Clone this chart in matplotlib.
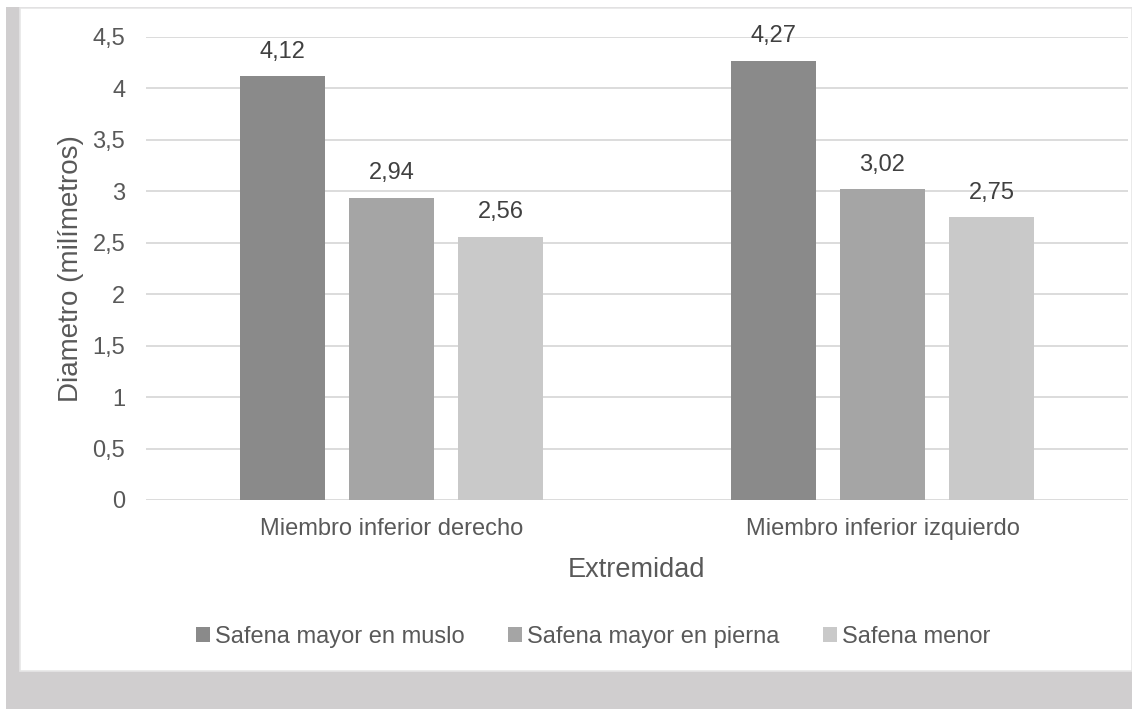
import matplotlib.pyplot as plt
import numpy as np
from matplotlib.patches import Rectangle

plt.rcParams['font.family'] = ['Liberation Sans', 'DejaVu Sans']

categories = ['Miembro inferior derecho', 'Miembro inferior izquierdo']
series_names = ['Safena mayor en muslo', 'Safena mayor en pierna', 'Safena menor']
values = [
    [4.12, 4.27],
    [2.94, 3.02],
    [2.56, 2.75],
]
colors = ['#8a8a8a', '#a5a5a5', '#c9c9c9']
yticks = [0, 0.5, 1, 1.5, 2, 2.5, 3, 3.5, 4, 4.5]
text_color = '#595959'

W, H = 1132, 709
fig = plt.figure(figsize=(W / 100, H / 100), dpi=100)

# gray frame around the white chart area
fig.patches.append(Rectangle((6 / W, 0), 1 - 6 / W, 1 - 7 / H, transform=fig.transFigure,
                             facecolor='#d0cecf', edgecolor='none', zorder=-3))
fig.patches.append(Rectangle((20 / W, (H - 671) / H), 1 - 20 / W, (671 - 8) / H,
                             transform=fig.transFigure, facecolor='white',
                             edgecolor='#e6e6e6', lw=1.2, zorder=-2))

ax = fig.add_axes([146 / W, (H - 500) / H, (1128 - 146) / W, (500 - 37) / H])
ax.set_facecolor('none')

x = np.arange(len(categories))
width = 0.175
step = 0.222
for i, (name, vals) in enumerate(zip(series_names, values)):
    pos = x + (i - 1) * step
    bars = ax.bar(pos, vals, width, color=colors[i], label=name, zorder=3)
    for b, v in zip(bars, vals):
        ax.text(b.get_x() + b.get_width() / 2, v + 0.235, f'{v:.2f}'.replace('.', ','),
                ha='center', va='center', fontsize=17, color='#404040')

ax.set_xlim(-0.5, 1.5)
ax.set_ylim(0, 4.5)
ax.set_yticks(yticks)
ax.set_yticklabels([f'{t:g}'.replace('.', ',') for t in yticks])
ax.set_xticks(x)
ax.set_xticklabels(categories)
ax.tick_params(axis='both', length=0, labelsize=17, colors=text_color)
ax.tick_params(axis='y', pad=15)
ax.tick_params(axis='x', pad=13)
for s in ax.spines.values():
    s.set_visible(False)
ax.yaxis.grid(True, color='#d9d9d9', lw=1.3, zorder=0)
ax.set_axisbelow(True)

ax.set_ylabel('Diametro (milímetros)', fontsize=20, color=text_color, labelpad=6)
ax.set_xlabel('Extremidad', fontsize=19.5, color=text_color, labelpad=12)

fig.legend(loc='center', bbox_to_anchor=(0.524, 1 - 637 / H), ncol=3, frameon=False,
           fontsize=17, labelcolor=text_color, handlelength=0.6, handleheight=0.6,
           handletextpad=0.2, columnspacing=1.85)

fig.savefig('out.png', dpi=100, facecolor='white')
